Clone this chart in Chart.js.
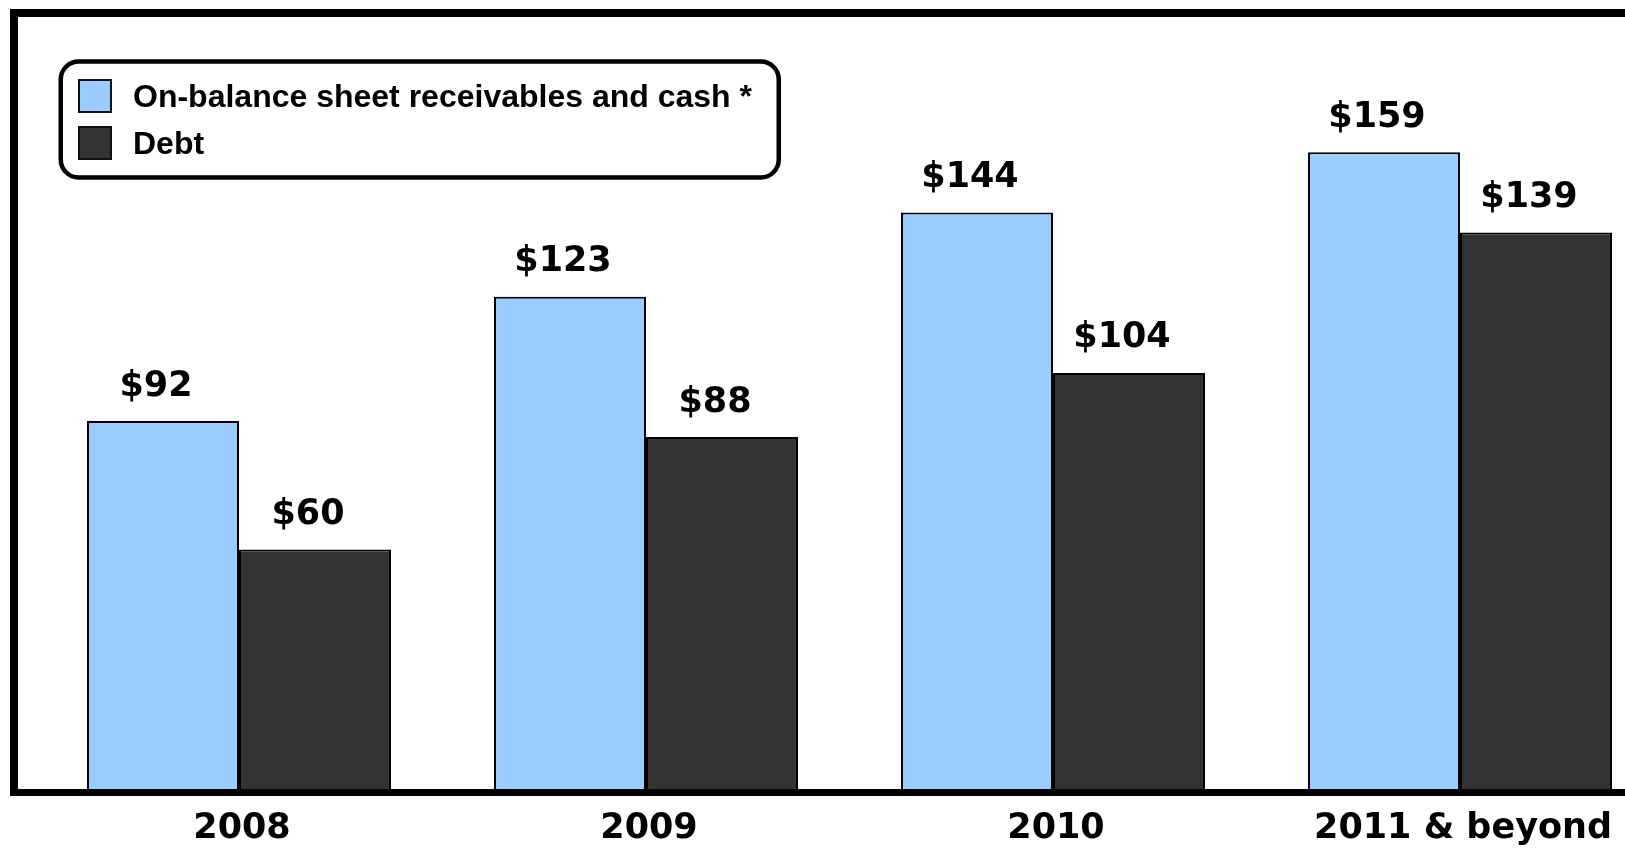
<!DOCTYPE html>
<html>
<head>
<meta charset="utf-8">
<title>Receivables and debt</title>
<script src="https://cdn.jsdelivr.net/npm/chart.js@4.4.1/dist/chart.umd.min.js"></script>
<style>
  html, body { margin: 0; padding: 0; background: #ffffff; overflow: hidden; }
  #wrap { position: relative; width: 1625px; height: 848px; overflow: hidden; }
  canvas { position: absolute; left: 0; top: 0; }
</style>
</head>
<body>
<div id="wrap"><canvas id="liquidityChart" width="1700" height="848"></canvas></div>
<script>
const categories = ["2008", "2009", "2010", "2011 & beyond"];
const receivables = [92, 123, 144, 159];
const debt = [60, 88, 104, 139];
const seriesNames = ["On-balance sheet receivables and cash *", "Debt"];
const seriesColors = ["#99ccff", "#333333"];

const bigFont = "bold 35px 'DejaVu Sans'";

// thick black frame: top, left and bottom (right side is cut off)
const framePlugin = {
  id: "frame",
  afterDraw(chart) {
    const ctx = chart.ctx;
    const area = chart.chartArea;
    ctx.save();
    ctx.strokeStyle = "#000";
    ctx.lineJoin = "miter";
    ctx.lineWidth = 8;
    ctx.beginPath();
    ctx.moveTo(chart.width, 13);
    ctx.lineTo(14, 13);
    ctx.lineTo(14, area.bottom + 6);
    ctx.stroke();
    ctx.lineWidth = 7;
    ctx.beginPath();
    ctx.moveTo(10, area.bottom + 2.5);
    ctx.lineTo(chart.width, area.bottom + 2.5);
    ctx.stroke();
    ctx.restore();
  }
};

// "$NN" above every bar
const valueLabels = {
  id: "valueLabels",
  afterDatasetsDraw(chart) {
    const ctx = chart.ctx;
    ctx.save();
    ctx.font = bigFont;
    ctx.fillStyle = "#000";
    ctx.textAlign = "center";
    ctx.textBaseline = "alphabetic";
    chart.data.datasets.forEach((ds, i) => {
      chart.getDatasetMeta(i).data.forEach((bar, j) => {
        ctx.fillText("$" + ds.data[j], bar.x - 7, bar.y - 25.5);
      });
    });
    ctx.restore();
  }
};

// rounded legend box in the top left
const boxLegend = {
  id: "boxLegend",
  afterDraw(chart) {
    const ctx = chart.ctx;
    ctx.save();
    ctx.fillStyle = "#fff";
    ctx.strokeStyle = "#000";
    ctx.lineWidth = 4.5;
    ctx.beginPath();
    ctx.roundRect(60.75, 61.5, 718, 116, 18);
    ctx.fill();
    ctx.stroke();

    ctx.font = "bold 32px 'Liberation Sans'";
    ctx.textBaseline = "middle";
    ctx.textAlign = "left";
    chart.data.datasets.forEach((ds, i) => {
      const y = 80 + i * 47;
      ctx.fillStyle = ds.backgroundColor;
      ctx.fillRect(79, y, 32, 32);
      ctx.lineWidth = 2;
      ctx.strokeStyle = "#111";
      ctx.strokeRect(79, y, 32, 32);
      ctx.fillStyle = "#000";
      ctx.fillText(ds.label, 133, y + 18);
    });
    ctx.restore();
  }
};

const ctx = document.getElementById("liquidityChart");

const liquidityChart = new Chart(ctx, {
  type: "bar",
  data: {
    labels: categories,
    datasets: [
      {
        label: seriesNames[0],
        data: receivables,
        backgroundColor: seriesColors[0],
        borderColor: "#000",
        borderWidth: 2
      },
      {
        label: seriesNames[1],
        data: debt,
        backgroundColor: seriesColors[1],
        borderColor: "#000",
        borderWidth: 2
      }
    ]
  },
  options: {
    responsive: false,
    animation: false,
    categoryPercentage: 0.747,
    barPercentage: 1.0,
    layout: {
      padding: { left: 35.5, right: 36.5, top: 18, bottom: 0 }
    },
    plugins: {
      legend: { display: false },
      tooltip: { enabled: false }
    },
    scales: {
      x: {
        grid: { display: false, drawTicks: false },
        border: { display: false },
        ticks: {
          color: "#000",
          padding: 18,
          labelOffset: 3,
          font: { family: "DejaVu Sans", weight: "bold", size: 35 }
        },
        afterFit(scale) {
          scale.height = 58;
        }
      },
      y: {
        display: false,
        min: 0,
        max: 192.5
      }
    }
  },
  plugins: [valueLabels, framePlugin, boxLegend]
});
</script>
</body>
</html>
